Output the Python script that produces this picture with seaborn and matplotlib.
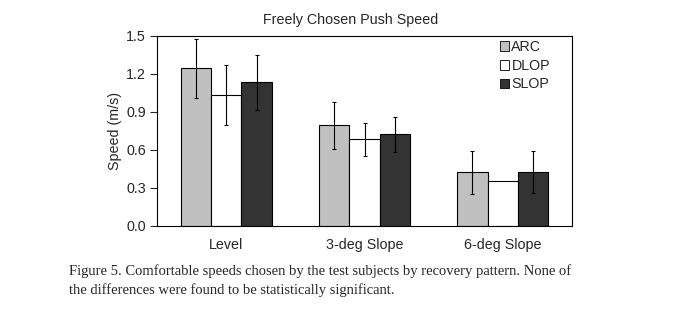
import matplotlib
matplotlib.use("Agg")
import matplotlib.pyplot as plt
import seaborn as sns
import pandas as pd
import numpy as np

categories = ["Level", "3-deg Slope", "6-deg Slope"]
groups = ["ARC", "DLOP", "SLOP"]
arc = [1.24, 0.79, 0.42]
dlop = [1.03, 0.68, 0.35]
slop = [1.13, 0.72, 0.42]
arc_err = [0.23, 0.185, 0.17]
dlop_err = [0.235, 0.13, 0.0]
slop_err = [0.215, 0.14, 0.165]
yticks = [0.0, 0.3, 0.6, 0.9, 1.2, 1.5]

colors = {"ARC": "#c0c0c0", "DLOP": "#ffffff", "SLOP": "#333333"}

rows = []
for g, vals, errs in [("ARC", arc, arc_err), ("DLOP", dlop, dlop_err), ("SLOP", slop, slop_err)]:
    for c, v, e in zip(categories, vals, errs):
        rows.append({"cat": c, "grp": g, "val": v, "err": e})
df = pd.DataFrame(rows)

sns.set_style("white")
plt.rcParams["font.family"] = ["Liberation Sans", "DejaVu Sans"]
FS = 10.3

fig = plt.figure(figsize=(6.9, 3.23), dpi=100)
ax = fig.add_axes([157/690, 1 - 225.5/323, 415/690, 190/323])

sns.barplot(data=df, x="cat", y="val", hue="grp", order=categories, hue_order=groups,
            palette=colors, width=0.66, gap=0, errorbar=None, edgecolor="black",
            linewidth=0.8, saturation=1, ax=ax, legend=True)

for cont, g in zip(ax.containers, groups):
    sub = df[df.grp == g].set_index("cat").loc[categories]
    xs = [p.get_x() + p.get_width() / 2 for p in cont.patches]
    for x, v, e in zip(xs, sub["val"], sub["err"]):
        if e > 0:
            ax.errorbar(x, v, yerr=e, color="black", lw=0.8, capsize=1.5, capthick=0.8, zorder=5)

ax.set_ylim(0, 1.5)
ax.set_yticks(yticks)
ax.set_yticklabels([f"{t:.1f}" for t in yticks], fontsize=FS)
ax.set_xlim(-0.5, 2.5)
ax.set_xlabel("")
ax.set_ylabel("Speed (m/s)", fontsize=FS, labelpad=3)
ax.tick_params(axis="y", direction="out", length=5, width=0.8, pad=3, left=True)
ax.tick_params(axis="x", length=0, labelsize=FS, pad=9)
for s in ax.spines.values():
    s.set_visible(True)
    s.set_color("black")
    s.set_linewidth(0.8)

leg = ax.legend(loc="upper left", bbox_to_anchor=((500 - 157) / 415, 0.975), frameon=False,
                fontsize=FS, handlelength=0.65, handleheight=0.65, handletextpad=0.15,
                labelspacing=0.32, borderaxespad=0, borderpad=0)
for h in leg.legend_handles:
    h.set_edgecolor("black")
    h.set_linewidth(0.6)

fig.text(351/690, 1 - 20/323, "Freely Chosen Push Speed", ha="center", va="center", fontsize=FS)

cap = ("Figure 5. Comfortable speeds chosen by the test subjects by recovery pattern. None of\n"
       "the differences were found to be statistically significant.")
fig.text(69/690, 1 - 264.5/323, cap, ha="left", va="top", fontsize=10.5,
         family=["Liberation Serif", "DejaVu Serif"], linespacing=1.5)

fig.savefig("out.png", dpi=100, facecolor="white")
